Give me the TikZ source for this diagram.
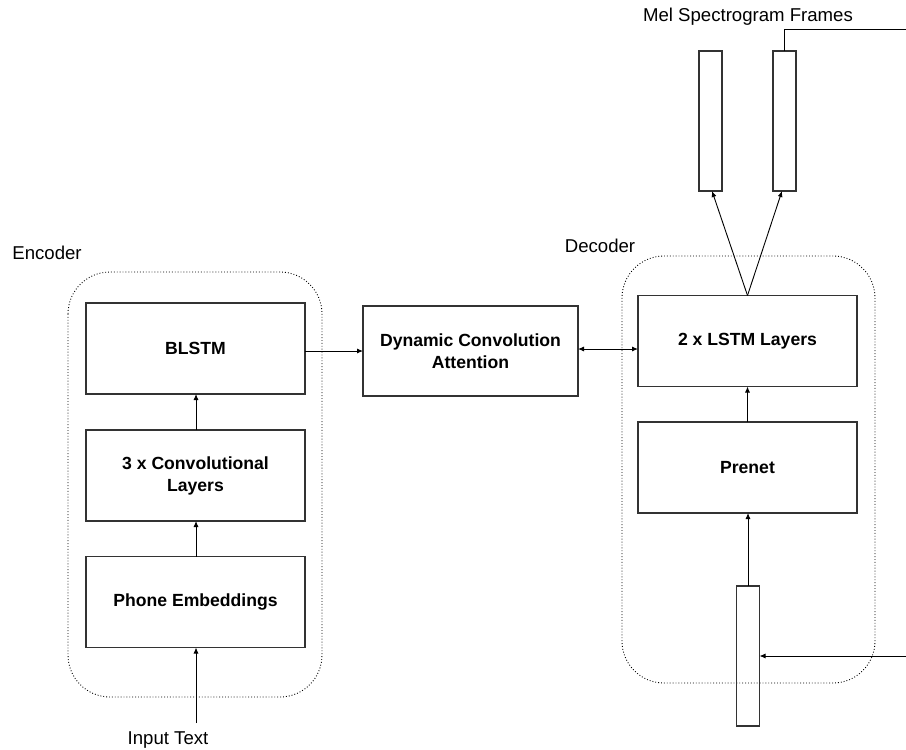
\documentclass[tikz,border=0pt]{standalone}
\usepackage{fontspec}
\setmainfont{Liberation Sans}
\usetikzlibrary{arrows.meta}
\begin{document}
\begin{tikzpicture}[x=1pt,y=-1pt,
  box/.style={draw=black!80, line width=1.2pt, minimum width=219pt, minimum height=91pt, inner sep=0pt, outer sep=0pt, align=center, font=\fontsize{17.6}{22}\selectfont\bfseries},
  bar/.style={draw=black!80, line width=1.2pt, minimum width=23pt, minimum height=140pt, inner sep=0pt, outer sep=0pt},
  grp/.style={draw, dotted, line width=0.9pt, rounded corners=42pt},
  lbl/.style={font=\fontsize{18.6}{22}\selectfont, inner sep=0pt},
  arr/.style={-{Latex[length=6pt,width=5pt]}, line width=0.9pt},
  biarr/.style={{Latex[length=6pt,width=5pt]}-{Latex[length=6pt,width=5pt]}, line width=0.9pt},
  plain/.style={line width=0.9pt},
]
\useasboundingbox (0,0) rectangle (906,750);
% groups
\draw[grp] (68,272) rectangle (322,697);
\draw[grp] (622,256) rectangle (875,683);
\node[lbl] (enc) at (47,253) {Encoder};
\node[lbl] (dec) at (600,246) {Decoder};
% encoder boxes
\node[box] (blstm) at (195.5,348.5) {BLSTM};
\node[box] (conv) at (195.5,475.5) {3 x Convolutional\\Layers};
\node[box] (phone) at (195.5,602) {Phone Embeddings};
% attention
\node[box, minimum width=215pt, minimum height=90pt] (dca) at (470.5,351) {Dynamic Convolution\\Attention};
% decoder boxes
\node[box] (lstm) at (747.5,341) {2 x LSTM Layers};
\node[box] (prenet) at (747.5,467.5) {Prenet};
% bars
\node[bar] (inbar) at (748,656) {};
\node[bar] (mel1) at (710.5,121) {};
\node[bar] (mel2) at (784.5,121) {};
\node[lbl] (meltxt) at (748,17) {Mel Spectrogram Frames};
\node[lbl] (intxt) at (168,740) {Input Text};
% coordinates
\coordinate (inT) at (196,723);
\coordinate (edgeTop) at (906,29);
\coordinate (edgeBot) at (906,656);
% connectors
\draw[arr] (inT) -- (phone.south -| inT);
\draw[arr] (phone.north -| inT) -- (conv.south -| inT);
\draw[arr] (conv.north -| inT) -- (blstm.south -| inT);
\draw[arr] (blstm.east |- 0,351) -- (dca.west |- 0,351);
\draw[biarr] (dca.east |- 0,349) -- (lstm.west |- 0,349);
\draw[arr] (prenet.north) -- (lstm.south);
\draw[arr] (inbar.north) -- (prenet.south -| inbar.north);
\draw[arr] (edgeBot) -- (inbar.east |- edgeBot);
\draw[arr] (lstm.north) -- ([xshift=1.5pt]mel1.south);
\draw[arr] (lstm.north) -- ([xshift=-2.5pt]mel2.south);
\draw[plain] (mel2.north) -- (mel2.north |- edgeTop) -- (edgeTop);
\end{tikzpicture}
\end{document}
